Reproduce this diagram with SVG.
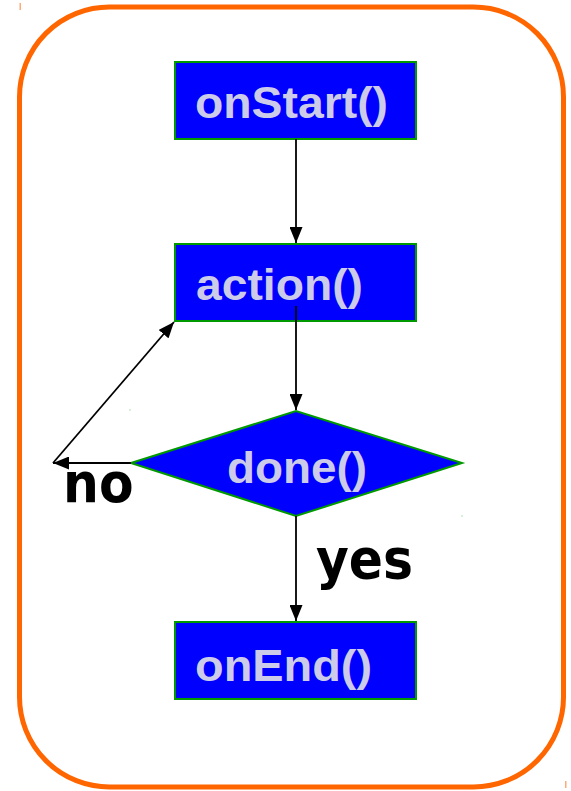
<svg xmlns="http://www.w3.org/2000/svg" width="571" height="791" viewBox="0 0 571 791">
<style>
.frame{fill:#ffffff;stroke:#ff6600;stroke-width:5}
.box{fill:#0000ff;stroke:#009900;stroke-width:2}
.lbl{font-family:"Liberation Sans",Arial,sans-serif;font-weight:bold;font-size:44px;fill:#ccccea}
.edge{fill:none;stroke:#000000;stroke-width:1.8}
.tag{font-family:"DejaVu Sans Condensed","DejaVu Sans",sans-serif;font-stretch:condensed;font-weight:bold;font-size:56px;fill:#000000}
</style>
<defs>
<marker id="ah" viewBox="0 0 16 13" refX="16" refY="6.5" markerWidth="16" markerHeight="13" markerUnits="userSpaceOnUse" orient="auto">
<path d="M0,0 L16,6.5 L0,13 Z" fill="#000000"/>
</marker>
</defs>
<rect width="571" height="791" fill="#ffffff"/>
<rect class="frame" x="19.5" y="7" width="544" height="780" rx="90" ry="90"/>
<rect x="19.5" y="3" width="1.5" height="7" fill="#ffaa77"/>
<rect x="565" y="781" width="1.5" height="7" fill="#ffaa77"/>
<rect x="129.5" y="409.5" width="1" height="1" fill="#66cc66"/>
<rect x="461.5" y="515.5" width="1" height="1" fill="#66cc66"/>
<g id="onStart">
<rect class="box" x="175" y="62" width="241" height="77"/>
<text class="lbl" x="195" y="118" textLength="193" lengthAdjust="spacingAndGlyphs">onStart()</text>
</g>
<g id="action">
<rect class="box" x="175" y="244" width="241" height="77"/>
<text class="lbl" x="196" y="300" textLength="167" lengthAdjust="spacingAndGlyphs">action()</text>
</g>
<g id="done">
<polygon class="box" points="131,463 296,411 462,463 296,516"/>
<text class="lbl" x="227" y="483" textLength="140" lengthAdjust="spacingAndGlyphs">done()</text>
</g>
<g id="onEnd">
<rect class="box" x="175" y="622" width="241" height="77"/>
<text class="lbl" x="195" y="681" textLength="177" lengthAdjust="spacingAndGlyphs">onEnd()</text>
</g>
<g id="connectors">
<line class="edge" x1="296" y1="139" x2="296" y2="243" marker-end="url(#ah)"/>
<line class="edge" x1="296" y1="306" x2="296" y2="410" marker-end="url(#ah)"/>
<line class="edge" x1="296" y1="516" x2="296" y2="621" marker-end="url(#ah)"/>
<line class="edge" x1="131" y1="463" x2="53" y2="463" marker-end="url(#ah)"/>
<line class="edge" x1="53" y1="463" x2="174" y2="322" marker-end="url(#ah)"/>
<text class="tag" x="63" y="502">no</text>
<text class="tag" x="316" y="578">yes</text>
</g>
</svg>
